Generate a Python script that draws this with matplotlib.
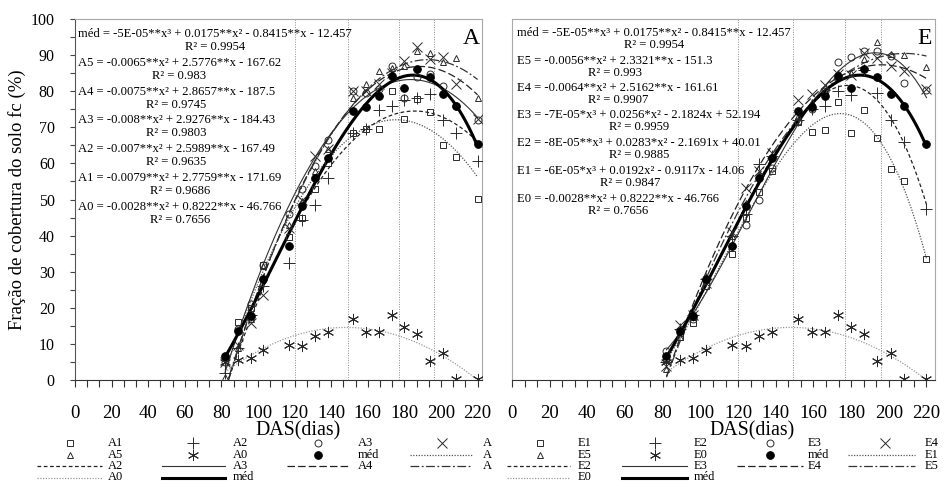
import numpy as np
import matplotlib
matplotlib.use("Agg")
import matplotlib.pyplot as plt
from matplotlib.ticker import MultipleLocator

plt.rcParams['font.family'] = ['Liberation Serif', 'DejaVu Serif']

# Days after sowing (DAS) of each evaluation
das = [82, 89, 96, 103, 117, 124, 131, 138, 152, 159, 166, 173, 180, 187, 194, 201, 208, 220]

# Mean of the treatments (same in both panels) and control (A0 = E0)
med = [6.7, 13.6, 17.6, 28.0, 37.0, 48.2, 56.0, 61.5, 74.5, 75.7, 78.6, 84.2, 81.0, 86.2, 84.0, 79.3, 75.8, 65.4]
ctrl = [5.0, 5.6, 6.0, 8.3, 9.7, 9.5, 12.2, 13.3, 16.9, 13.2, 13.4, 18.0, 14.8, 12.8, 5.3, 7.6, 0.3, 0.3]

# Panel A
a1 = [6.5, 16.2, 20.0, 31.9, 39.5, 44.8, 53.0, 60.2, 68.3, 69.6, 69.6, 80.0, 72.4, 77.8, 74.2, 65.2, 61.8, 50.2]
a2 = [2.0, 9.0, 18.0, 26.0, 32.3, 44.3, 48.6, 56.0, 68.3, 69.5, 74.7, 76.0, 77.5, 78.0, 79.2, 71.9, 68.5, 60.6]
a3 = [5.0, 14.0, 21.0, 31.9, 46.0, 53.0, 59.3, 66.4, 80.1, 79.6, 80.5, 87.0, 78.0, 84.0, 84.9, 81.5, 76.0, 72.0]
a4 = [5.0, 9.7, 15.7, 23.6, 42.0, 50.0, 62.0, 64.0, 80.0, 80.0, 81.9, 85.0, 88.4, 92.3, 89.0, 89.4, 82.1, 72.2]
a5 = [0.9, 9.0, 17.0, 31.5, 43.0, 49.5, 58.0, 64.0, 78.0, 82.1, 85.6, 86.5, 87.0, 91.0, 90.7, 88.1, 89.1, 78.2]

# Panel E
e1 = [6.0, 12.0, 15.8, 26.0, 35.0, 45.0, 52.0, 58.0, 71.6, 68.8, 69.3, 77.1, 68.5, 74.7, 67.0, 58.5, 55.2, 33.5]
e2 = [5.0, 14.0, 18.0, 28.0, 40.0, 46.0, 59.8, 62.0, 72.0, 75.0, 76.0, 80.0, 79.0, 86.0, 79.6, 71.9, 65.9, 47.3]
e3 = [7.9, 13.0, 17.0, 27.8, 37.0, 43.0, 50.0, 58.7, 71.8, 75.0, 80.0, 88.2, 89.5, 91.0, 91.0, 89.8, 82.3, 80.4]
e4 = [4.0, 15.3, 18.0, 27.0, 41.0, 53.2, 58.0, 63.0, 77.5, 79.2, 81.7, 84.9, 84.4, 90.5, 89.1, 87.1, 85.5, 80.6]
e5 = [3.0, 12.0, 18.0, 28.0, 40.0, 49.0, 57.0, 62.0, 73.0, 77.0, 80.0, 85.0, 85.0, 89.0, 93.6, 90.3, 90.0, 86.6]

# Growth stage marks
stages = [120, 149, 177, 196]

eqs_a = [
    ("méd = -5E-05**x³ + 0.0175**x² - 0.8415**x - 12.457", "R² = 0.9954"),
    ("A5 = -0.0065**x² + 2.5776**x - 167.62", "R² = 0.983"),
    ("A4 = -0.0075**x² + 2.8657**x - 187.5", "R² = 0.9745"),
    ("A3 = -0.008**x² + 2.9276**x - 184.43", "R² = 0.9803"),
    ("A2 = -0.007**x² + 2.5989**x - 167.49", "R² = 0.9635"),
    ("A1 = -0.0079**x² + 2.7759**x - 171.69", "R² = 0.9686"),
    ("A0 = -0.0028**x² + 0.8222**x - 46.766", "R² = 0.7656"),
]
eqs_e = [
    ("méd = -5E-05**x³ + 0.0175**x² - 0.8415**x - 12.457", "R² = 0.9954"),
    ("E5 = -0.0056**x² + 2.3321**x - 151.3", "R² = 0.993"),
    ("E4 = -0.0064**x² + 2.5162**x - 161.61", "R² = 0.9907"),
    ("E3 = -7E-05*x³ + 0.0256*x² - 2.1824x + 52.194", "R² = 0.9959"),
    ("E2 = -8E-05**x³ + 0.0283*x² - 2.1691x + 40.01", "R² = 0.9885"),
    ("E1 = -6E-05*x³ + 0.0192x² - 0.9117x - 14.06", "R² = 0.9847"),
    ("E0 = -0.0028**x² + 0.8222**x - 46.766", "R² = 0.7656"),
]

INK = '#2a2a2a'
GRID = '#a8a8a8'

marker_style = {
    '1': dict(marker='s', ms=5, mfc='none'),
    '2': dict(marker='+', ms=8, mfc='none'),
    '3': dict(marker='o', ms=5, mfc='none'),
    '4': dict(marker='x', ms=7, mfc='none'),
    '5': dict(marker='^', ms=5, mfc='none'),
    '0': dict(marker=(6, 2, 0), ms=8, mfc='none'),
    'med': dict(marker='o', ms=5.5, mfc='black'),
}

line_style = {
    '1': dict(ls=(0, (1, 1.2)), lw=0.9, color='#555555'),
    '2': dict(ls=(0, (3, 2)), lw=0.9, color='#222222'),
    '3': dict(ls='-', lw=0.8, color='#333333'),
    '4': dict(ls=(0, (6, 2.5)), lw=0.9, color='#222222'),
    '5': dict(ls=(0, (7, 2, 1.5, 2)), lw=0.9, color='#333333'),
    '0': dict(ls=(0, (1, 1.2)), lw=0.9, color='#9a9a9a'),
    'med': dict(ls='-', lw=2.2, color='black'),
}


def draw_panel(ax, series, xmax):
    for key, y, deg in series:
        coef = np.polyfit(das, y, deg)
        xs = np.linspace(das[0], das[-1], 300)
        ax.plot(xs, np.polyval(coef, xs), zorder=2, **line_style[key])
    for key, y, deg in series:
        ax.plot(das, y, ls='none', mec=INK if key != 'med' else 'black',
                mew=0.7, zorder=3, **marker_style[key])

    for s in stages:
        ax.axvline(s, color='#8c8c8c', ls=(0, (1, 1.5)), lw=0.7, zorder=1)

    ax.set_xlim(0, xmax)
    ax.set_ylim(0, 100)
    ax.xaxis.set_major_locator(MultipleLocator(20))
    ax.xaxis.set_minor_locator(MultipleLocator(20 / 3))
    ax.tick_params(axis='x', which='both', direction='out', length=5,
                   width=0.8, color='#333333', pad=13, labelsize=13.5)
    ax.set_xticks([t for t in range(0, 221, 20)])
    for side in ('top', 'right'):
        ax.spines[side].set_color(GRID)
        ax.spines[side].set_linewidth(0.8)
    ax.spines['bottom'].set_color('#333333')
    ax.spines['bottom'].set_linewidth(0.8)


def legend_block(ov, cols, y_rows):
    for (x0, x1, xm, xl), entries in cols:
        for (kind, key, label), y in zip(entries, y_rows):
            if kind == 'm':
                ov.plot([xm], [y], ls='none', mec=INK if key != 'med' else 'black',
                        mew=0.7, **marker_style[key])
            else:
                ov.plot([x0, x1], [y, y], **line_style[key])
            ov.text(xl, y, label, fontsize=9, ha='left', va='center')


def main():
    fig = plt.figure(figsize=(9.45, 4.84), dpi=100)
    W, H = 945, 484

    ax1 = fig.add_axes([75 / W, 1 - 380 / H, 407 / W, 361 / H])
    ax2 = fig.add_axes([512 / W, 1 - 380 / H, 423 / W, 361 / H])

    series_a = [('1', a1, 2), ('2', a2, 2), ('3', a3, 2), ('4', a4, 2),
                ('5', a5, 2), ('0', ctrl, 2), ('med', med, 3)]
    series_e = [('1', e1, 3), ('2', e2, 3), ('3', e3, 3), ('4', e4, 2),
                ('5', e5, 2), ('0', ctrl, 2), ('med', med, 3)]

    draw_panel(ax1, series_a, 407 / 1.83)
    draw_panel(ax2, series_e, 423 / 1.884)

    ax1.yaxis.set_major_locator(MultipleLocator(10))
    ax1.yaxis.set_minor_locator(MultipleLocator(5))
    ax1.tick_params(axis='y', which='both', direction='out', length=3.5,
                    width=0.8, color='#444444', pad=11, labelsize=11.5)
    ax1.spines['left'].set_color('#555555')
    ax1.spines['left'].set_linewidth(0.8)

    ax2.tick_params(axis='y', which='both', left=False, labelleft=False)
    ax2.spines['left'].set_color(GRID)
    ax2.spines['left'].set_linewidth(0.8)

    # overlay in pixel coordinates for texts and legends
    ov = fig.add_axes([0, 0, 1, 1])
    ov.set_xlim(0, W)
    ov.set_ylim(H, 0)
    ov.set_axis_off()

    for (eq, r2), y in zip(eqs_a, [33, 62, 91, 119, 148, 177, 206]):
        ov.text(78, y + 7.5, eq + "\n" + r2, fontsize=9.1, ha='left', va='center',
                multialignment='center', linespacing=1.12)
    for (eq, r2), y in zip(eqs_e, [32, 60, 87, 114, 142, 170, 198]):
        ov.text(517, y + 7, eq + "\n" + r2, fontsize=9.1, ha='left', va='center',
                multialignment='center', linespacing=1.1)

    ov.text(471, 38, 'A', fontsize=17, ha='center', va='center')
    ov.text(925, 38, 'E', fontsize=17, ha='center', va='center')

    ov.text(17, 200, 'Fração de cobertura do solo fc (%)', rotation=90,
            fontsize=13.5, ha='center', va='center')
    ov.text(298, 431, 'DAS(dias)', fontsize=14.3, ha='center', va='center')
    ov.text(752, 431, 'DAS(dias)', fontsize=14.3, ha='center', va='center')

    rows = [443, 454.5, 466, 477.5]
    legend_block(ov, [
        ((37, 102, 70, 108), [('m', '1', 'A1'), ('m', '5', 'A5'), ('l', '2', 'A2'), ('l', '0', 'A0')]),
        ((162, 225, 193, 233), [('m', '2', 'A2'), ('m', '0', 'A0'), ('l', '3', 'A3'), ('l', 'med', 'méd')]),
        ((287, 350, 318, 358), [('m', '3', 'A3'), ('m', 'med', 'méd'), ('l', '4', 'A4')]),
        ((410, 472, 442, 483), [('m', '4', 'A'), ('l', '1', 'A'), ('l', '5', 'A')]),
    ], rows)
    legend_block(ov, [
        ((507, 570, 540, 578), [('m', '1', 'E1'), ('m', '5', 'E5'), ('l', '2', 'E2'), ('l', '0', 'E0')]),
        ((622, 687, 655, 694), [('m', '2', 'E2'), ('m', '0', 'E0'), ('l', '3', 'E3'), ('l', 'med', 'méd')]),
        ((737, 803, 770, 808), [('m', '3', 'E3'), ('m', 'med', 'méd'), ('l', '4', 'E4')]),
        ((848, 915, 885, 925), [('m', '4', 'E4'), ('l', '1', 'E1'), ('l', '5', 'E5')]),
    ], rows)

    fig.savefig('out.png', dpi=100)


if __name__ == "__main__":
    main()
